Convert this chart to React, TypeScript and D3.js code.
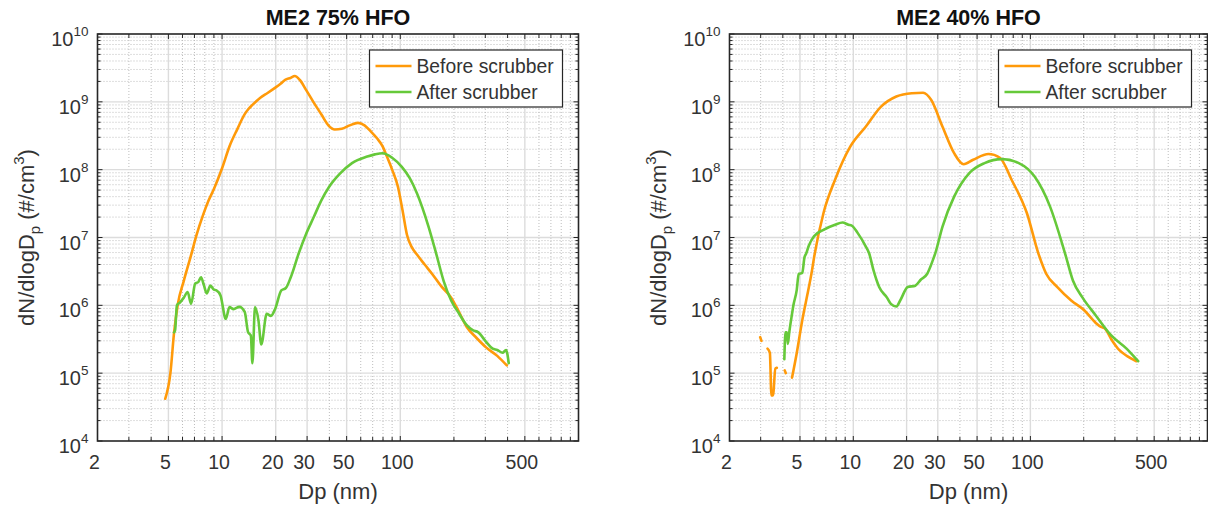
import React from 'react';
import * as d3 from 'd3';

// ---------- data ----------
const X_TICKS = [2, 5, 10, 20, 30, 50, 100, 500];
const Y_EXPONENTS = [4, 5, 6, 7, 8, 9, 10];
const TITLES = ['ME2 75% HFO', 'ME2 40% HFO'];
const LEGEND_LABELS = ['Before scrubber', 'After scrubber'];
const X_LABEL = 'Dp (nm)';

// Left panel: ME2 75% HFO
const left_before_dp = [4.8, 5.13, 5.38, 5.65, 6.1, 6.7, 7.2, 7.8, 8.4, 9.0, 10.0, 11.0, 12.2, 13.4, 14.1, 14.8, 16.4, 18.0, 19.9, 21.3, 22.6, 24.2, 25.6, 27.3, 29.6, 32.5, 36.1, 39.5, 42.9, 47, 52, 57.8, 63, 68.7, 74, 79.6, 83.4, 90, 97, 103, 109, 116, 124, 137, 151, 170, 193, 214, 236, 268, 303, 350, 396];
const left_before_val = [4.2e4, 1.0e5, 4e5, 1.05e6, 2.3e6, 5.5e6, 1.1e7, 2.1e7, 3.5e7, 5.2e7, 1.05e8, 2.2e8, 4.0e8, 6.6e8, 7.9e8, 9.0e8, 1.15e9, 1.35e9, 1.62e9, 1.85e9, 2.1e9, 2.25e9, 2.4e9, 2.1e9, 1.5e9, 1.0e9, 6.5e8, 4.5e8, 3.9e8, 4.0e8, 4.5e8, 4.9e8, 4.5e8, 3.6e8, 2.9e8, 2.2e8, 1.65e8, 1.0e8, 5.6e7, 2.5e7, 1.1e7, 7.2e6, 5.6e6, 4.0e6, 2.9e6, 1.9e6, 1.3e6, 7.9e5, 4.8e5, 3.3e5, 2.4e5, 1.8e5, 1.3e5];

const left_after_dp = [5.38, 5.45, 5.58, 5.8, 6.1, 6.41, 6.7, 7.07, 7.35, 7.62, 7.9, 8.2, 8.6, 9.0, 9.3, 9.8, 10.5, 11.0, 11.6, 12.5, 13.4, 14.0, 14.5, 14.8, 15.3, 16.0, 16.6, 17.8, 18.8, 19.9, 21.5, 22.8, 24.3, 26.9, 29.5, 32.7, 36, 39.9, 46, 53.6, 65.3, 72, 79.6, 90, 102, 113, 124, 144, 159, 175, 193, 214, 236, 255, 274, 303, 330, 350, 375, 392, 406];
const left_after_val = [4.0e5, 4.3e5, 1.0e6, 1.1e6, 1.3e6, 1.57e6, 1.05e6, 2.1e6, 2.2e6, 2.6e6, 2.0e6, 1.5e6, 1.95e6, 1.7e6, 1.66e6, 1.4e6, 6.3e5, 9.4e5, 8.8e5, 9.5e5, 8e5, 4e5, 3.6e5, 1.4e5, 9.4e5, 6e5, 2.65e5, 7.5e5, 7e5, 9e5, 1.66e6, 1.8e6, 2.6e6, 5.8e6, 1.1e7, 2.0e7, 3.5e7, 5.6e7, 8.8e7, 1.25e8, 1.56e8, 1.68e8, 1.75e8, 1.5e8, 1.1e8, 7.5e7, 4.5e7, 1.45e7, 5.8e6, 2.3e6, 1.18e6, 7.5e5, 5.1e5, 4.3e5, 4e5, 2.9e5, 2.3e5, 2.2e5, 2.0e5, 2.2e5, 1.4e5];

// Right panel: ME2 40% HFO (null = gap in the measured data)
const right_before_dp = [2.98, 3.03, 3.1, 3.28, 3.38, 3.45, 3.52, 3.63, 3.7, 3.9, 4.1, 4.16, 4.3, 4.51, 4.79, 5.15, 5.42, 5.85, 6.0, 6.79, 7.89, 9.63, 11.75, 14.35, 17.5, 21.4, 24.8, 27.5, 31.9, 37.1, 42, 47.5, 58, 67.3, 78.3, 95.5, 111, 123, 142, 170, 202, 234, 250, 262, 290, 317, 350, 397];
const right_before_val = [3.4e5, 3.0e5, null, 2.3e5, 2.0e5, 4.7e4, 4.7e4, 1.17e5, 1.2e5, null, 1.1e5, 1.0e5, null, 8.6e4, 1.95e5, 6e5, 1.18e6, 3.3e6, 5.0e6, 2.3e7, 7.1e7, 2.2e8, 4.3e8, 8.5e8, 1.2e9, 1.34e9, 1.36e9, 1.07e9, 4.3e8, 1.75e8, 1.2e8, 1.4e8, 1.7e8, 1.5e8, 7.1e7, 2.3e7, 5.8e6, 2.9e6, 1.86e6, 1.18e6, 8.4e5, 5.5e5, 4.8e5, 4.6e5, 3.0e5, 2.2e5, 1.8e5, 1.5e5];

const right_after_dp = [4.08, 4.14, 4.22, 4.27, 4.35, 4.51, 4.59, 4.79, 4.92, 5.15, 5.3, 5.42, 5.6, 6.0, 6.79, 7.89, 8.7, 9.39, 9.8, 10.6, 11.75, 12.3, 13.0, 14.0, 15.5, 16.3, 17.5, 18.4, 20.3, 22.4, 24.1, 26.1, 28.1, 29, 31.9, 37.1, 45.2, 55.1, 69, 86, 105.6, 128.8, 157, 174, 197, 234, 286, 349, 406];
const right_after_val = [1.6e5, 4e5, 4e5, 2.7e5, 4e5, 7.5e5, 1e6, 1.66e6, 2.9e6, 3.0e6, 5.1e6, 5.8e6, 7.5e6, 1.04e7, 1.3e7, 1.54e7, 1.66e7, 1.54e7, 1.5e7, 1.16e7, 7.4e6, 5.8e6, 3.3e6, 1.86e6, 1.3e6, 1.05e6, 9.6e5, 1.18e6, 1.86e6, 1.95e6, 2.4e6, 2.9e6, 4.6e6, 5.8e6, 1.45e7, 4e7, 8.9e7, 1.25e8, 1.43e8, 1.25e8, 7.9e7, 2.9e7, 5.8e6, 2.3e6, 1.3e6, 7.1e5, 3.6e5, 2.3e5, 1.5e5];

// ---------- styles ----------
const ORANGE = '#FF9A0A';
const GREEN = '#66C93A';
const AXIS_COLOR = '#262626';
const TEXT_COLOR = '#333333';
const FONT = "'Liberation Sans', Arial, Helvetica, sans-serif";

const TOP = 34;
const BOTTOM = 441;

type Series = { dp: number[]; val: (number | null)[] };

function Panel(props: {
  id: string;
  x0: number;
  x1: number;
  title: string;
  before: Series;
  after: Series;
}) {
  const { id, x0, x1, title, before, after } = props;
  const xs = d3.scaleLog().domain([2, 1000]).range([x0, x1]);
  const ys = d3.scaleLog().domain([1e4, 1e10]).range([BOTTOM, TOP]);

  const xMinor: number[] = [];
  for (let n = 0; n <= 2; n++) {
    for (let k = 1; k <= 9; k++) {
      const v = k * Math.pow(10, n);
      if (v > 2 && v < 1000 && !X_TICKS.includes(v)) xMinor.push(v);
    }
  }
  const xAllTicks: number[] = [];
  for (let n = 0; n <= 2; n++) {
    for (let k = 1; k <= 9; k++) {
      const v = k * Math.pow(10, n);
      if (v > 2 && v < 1000) xAllTicks.push(v);
    }
  }
  const yMinor: number[] = [];
  for (let n = 4; n <= 9; n++) {
    for (let k = 2; k <= 9; k++) yMinor.push(k * Math.pow(10, n));
  }

  const mk = (s: Series) =>
    d3
      .line<[number, number | null]>()
      .defined((d) => d[1] != null)
      .x((d) => xs(d[0]))
      .y((d) => ys(d[1] as number))
      .curve(d3.curveMonotoneX)(s.dp.map((d, i) => [d, s.val[i]] as [number, number | null])) || '';

  const minorStyle = { stroke: '#bdbdbd', strokeWidth: 1, strokeDasharray: '1,2' };
  const majorStyle = { stroke: '#dcdcdc', strokeWidth: 1.4 };
  const cx = (x0 + x1) / 2;
  const legL = x1 - 209;
  const legT = TOP + 16;

  return (
    <g fontFamily={FONT}>
      <defs>
        <clipPath id={id}>
          <rect x={x0} y={TOP} width={x1 - x0} height={BOTTOM - TOP} />
        </clipPath>
      </defs>
      <rect x={x0} y={TOP} width={x1 - x0} height={BOTTOM - TOP} fill="#fff" />
      {/* minor grid */}
      {xMinor.map((v) => (
        <line key={'xm' + v} x1={xs(v)} x2={xs(v)} y1={TOP} y2={BOTTOM} {...minorStyle} />
      ))}
      {yMinor.map((v) => (
        <line key={'ym' + v} x1={x0} x2={x1} y1={ys(v)} y2={ys(v)} {...minorStyle} />
      ))}
      {/* major grid */}
      {X_TICKS.filter((v) => v > 2).map((v) => (
        <line key={'xM' + v} x1={xs(v)} x2={xs(v)} y1={TOP} y2={BOTTOM} {...majorStyle} />
      ))}
      {Y_EXPONENTS.filter((e) => e > 4 && e < 10).map((e) => (
        <line key={'yM' + e} x1={x0} x2={x1} y1={ys(Math.pow(10, e))} y2={ys(Math.pow(10, e))} {...majorStyle} />
      ))}
      {/* data */}
      <g clipPath={`url(#${id})`} fill="none" strokeWidth={2.6} strokeLinejoin="round" strokeLinecap="round">
        <path d={mk(before)} stroke={ORANGE} />
        <path d={mk(after)} stroke={GREEN} />
      </g>
      {/* ticks */}
      <g stroke={AXIS_COLOR} strokeWidth={1}>
        {xAllTicks.map((v) => {
          const len = X_TICKS.includes(v) ? 5 : 4;
          return (
            <g key={'xt' + v}>
              <line x1={xs(v)} x2={xs(v)} y1={BOTTOM} y2={BOTTOM - len} />
              <line x1={xs(v)} x2={xs(v)} y1={TOP} y2={TOP + len} />
            </g>
          );
        })}
        {Y_EXPONENTS.map((e) => (
          <g key={'yt' + e}>
            <line x1={x0} x2={x0 + 5} y1={ys(Math.pow(10, e))} y2={ys(Math.pow(10, e))} />
            <line x1={x1} x2={x1 - 5} y1={ys(Math.pow(10, e))} y2={ys(Math.pow(10, e))} />
          </g>
        ))}
        {yMinor.map((v) => (
          <g key={'ymt' + v}>
            <line x1={x0} x2={x0 + 3} y1={ys(v)} y2={ys(v)} />
            <line x1={x1} x2={x1 - 3} y1={ys(v)} y2={ys(v)} />
          </g>
        ))}
      </g>
      {/* box */}
      <rect x={x0} y={TOP} width={x1 - x0} height={BOTTOM - TOP} fill="none" stroke={AXIS_COLOR} strokeWidth={1.6} />
      {/* x tick labels */}
      {X_TICKS.map((v) => (
        <text key={'xl' + v} x={xs(v) - 3} y={469} textAnchor="middle" fontSize={19.5} fill={TEXT_COLOR}>
          {v}
        </text>
      ))}
      {/* y tick labels */}
      {Y_EXPONENTS.map((e) => (
        <text key={'yl' + e} x={x0 - 9} y={ys(Math.pow(10, e)) + 12} textAnchor="end" fontSize={20} fill={TEXT_COLOR}>
          10
          <tspan fontSize={13.5} dy={-10}>
            {e}
          </tspan>
        </text>
      ))}
      {/* axis labels */}
      <text x={cx} y={499} textAnchor="middle" fontSize={22} fill={TEXT_COLOR}>
        {X_LABEL}
      </text>
      <text transform={`translate(${x0 - 64},${(TOP + BOTTOM) / 2}) rotate(-90)`} textAnchor="middle" fontSize={22} fill={TEXT_COLOR}>
        dN/dlogD
        <tspan fontSize={15} dy={6}>
          p
        </tspan>
        <tspan dy={-6}> (#/cm</tspan>
        <tspan fontSize={15} dy={-10}>
          3
        </tspan>
        <tspan dy={10}>)</tspan>
      </text>
      {/* title */}
      <text x={cx} y={25} textAnchor="middle" fontSize={21.5} fontWeight="bold" fill="#111">
        {title}
      </text>
      {/* legend */}
      <rect x={legL} y={legT} width={193} height={57} fill="#fff" stroke={AXIS_COLOR} strokeWidth={1.2} />
      <line x1={legL + 6} x2={legL + 42} y1={legT + 16} y2={legT + 16} stroke={ORANGE} strokeWidth={2.6} />
      <line x1={legL + 6} x2={legL + 42} y1={legT + 42} y2={legT + 42} stroke={GREEN} strokeWidth={2.6} />
      <text x={legL + 47} y={legT + 23} fontSize={19.3} fill={TEXT_COLOR}>
        {LEGEND_LABELS[0]}
      </text>
      <text x={legL + 47} y={legT + 49} fontSize={19.3} fill={TEXT_COLOR}>
        {LEGEND_LABELS[1]}
      </text>
    </g>
  );
}

export default function App() {
  return (
    <svg
      width={1208}
      height={508}
      viewBox="0 0 1208 508"
      style={{ position: 'absolute', left: 0, top: 0, background: '#fff' }}
    >
      <rect x={0} y={0} width={1208} height={508} fill="#fff" />
      <Panel
        id="clipL"
        x0={97.5}
        x1={578.5}
        title={TITLES[0]}
        before={{ dp: left_before_dp, val: left_before_val }}
        after={{ dp: left_after_dp, val: left_after_val }}
      />
      <Panel
        id="clipR"
        x0={729.5}
        x1={1207.5}
        title={TITLES[1]}
        before={{ dp: right_before_dp, val: right_before_val }}
        after={{ dp: right_after_dp, val: right_after_val }}
      />
    </svg>
  );
}
